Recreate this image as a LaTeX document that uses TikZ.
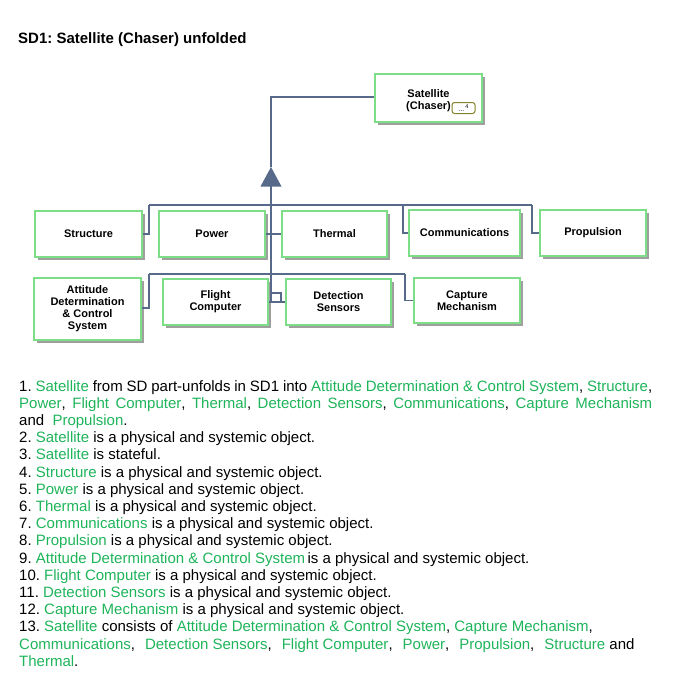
\documentclass[tikz,border=0pt]{standalone}
\usepackage{fontspec}
\setmainfont{Liberation Sans}
\usetikzlibrary{shadows}
\definecolor{objgreen}{RGB}{125,222,135}
\definecolor{txtgreen}{RGB}{30,180,90}
\definecolor{linkblue}{RGB}{88,106,138}
\definecolor{olivebox}{RGB}{130,130,40}
\newcommand{\ob}[1]{\textcolor{txtgreen}{#1}}
\newcommand{\gap}{\hspace{10pt}}
\frenchspacing

\begin{document}
\begin{tikzpicture}[x=1pt,y=1pt,
  every node/.style={font=\fontsize{11}{12}\selectfont\bfseries},
  obj/.style={draw=objgreen,line width=2pt,fill=white,align=center,inner sep=0pt,
    general shadow={fill=gray!75,shadow xshift=3pt,shadow yshift=-3pt}},
  link/.style={draw=linkblue,line width=1.4pt},
  txt/.style={anchor=base west,inner sep=0pt,font=\fontsize{15}{17.2}\selectfont}]
\useasboundingbox (0,0) rectangle (682,-672);

% title
\node[anchor=base west,inner sep=0pt,font=\fontsize{15}{16}\selectfont\bfseries] (title) at (18,-43) {SD1: Satellite (Chaser) unfolded};

% objects
\node[obj,minimum width=107,minimum height=48] (sat) at (428.5,-98) {};
\node[align=center,inner sep=0pt] (satname) at ([yshift=-3pt]sat.center) {Satellite\\(Chaser)};
\node[draw=olivebox,line width=1pt,rounded corners=2.5pt,fill=white,minimum width=23,minimum height=11,inner sep=0pt,
  font=\fontsize{7}{7}\selectfont] (satmore) at (463.5,-108) {\raisebox{-1.5pt}{...}\,\raisebox{2pt}{\fontsize{5.5}{6}\selectfont 4}};

\node[obj,minimum width=107,minimum height=46] (struct) at (88.5,-234) {Structure};
\node[obj,minimum width=106,minimum height=46] (power) at (212,-234) {Power};
\node[obj,minimum width=105,minimum height=46] (thermal) at (334.5,-234) {Thermal};
\node[obj,minimum width=111,minimum height=46] (comm) at (464.5,-233) {Communications};
\node[obj,minimum width=106,minimum height=46] (prop) at (593,-233) {Propulsion};
\node[obj,minimum width=107,minimum height=62] (adcs) at (87.5,-309) {Attitude\\Determination\\\& Control\\System};
\node[obj,minimum width=105,minimum height=46] (fc) at (215.5,-302) {Flight\\Computer};
\node[obj,minimum width=105,minimum height=46] (ds) at (338.5,-302) {Detection\\Sensors};
\node[obj,minimum width=106,minimum height=45] (cm) at (467,-300.5) {Capture\\Mechanism};

% aggregation
\coordinate (aggtop) at (271,-167);
\coordinate (aggbot) at (271,-186);
\coordinate (busa) at (149,-205);
\coordinate (busb) at (532,-205);
\coordinate (busc) at (149,-274);
\coordinate (busd) at (405,-274);
\draw[link] (sat.west |- 0,-97) -| (aggtop);
\fill[linkblue] (aggtop) -- (260.5,-186.5) -- (281.5,-186.5) -- cycle;
\draw[link] (aggbot) -- (271,-302);
\draw[link] (busa) -- (busb);
\draw[link] (busc) -- (busd);
\draw[link] (struct.east) -| (busa);
\draw[link] (power.east) -- (thermal.west);
\draw[link] (403,-205) |- (comm.west);
\draw[link] (busb) |- (prop.west);
\draw[link] (adcs.east |- 0,-308) -| (busc);
\draw[link] (busd) |- (cm.west);
\draw[link] (fc.east) -- (ds.west);
\draw[link] (271,-293) -- (281,-293) -- (281,-302);

% text
\node[txt] (t1) at (19,-391) {\makebox[633pt][s]{1. \ob{Satellite} from SD part-unfolds in SD1 into \ob{Attitude Determination \& Control System}, \ob{Structure},}};
\node[txt] (t2) at (19,-408.2) {\makebox[633pt][s]{\ob{Power}, \ob{Flight Computer}, \ob{Thermal}, \ob{Detection Sensors}, \ob{Communications}, \ob{Capture Mechanism}}};
\node[txt] (t3) at (19,-425.4) {and\ \ \ob{Propulsion}.};
\node[txt] (t4) at (19,-442.6) {2. \ob{Satellite} is a physical and systemic object.};
\node[txt] (t5) at (19,-459.8) {3. \ob{Satellite} is stateful.};
\node[txt] (t6) at (19,-477) {4. \ob{Structure} is a physical and systemic object.};
\node[txt] (t7) at (19,-494.2) {5. \ob{Power} is a physical and systemic object.};
\node[txt] (t8) at (19,-511.4) {6. \ob{Thermal} is a physical and systemic object.};
\node[txt] (t9) at (19,-528.6) {7. \ob{Communications} is a physical and systemic object.};
\node[txt] (t10) at (19,-545.8) {8. \ob{Propulsion} is a physical and systemic object.};
\node[txt] (t11) at (19,-563) {9. \ob{Attitude Determination \& Control System}\,is a physical and systemic object.};
\node[txt] (t12) at (19,-580.2) {10. \ob{Flight Computer} is a physical and systemic object.};
\node[txt] (t13) at (19,-597.4) {11. \ob{Detection Sensors} is a physical and systemic object.};
\node[txt] (t14) at (19,-614.6) {12. \ob{Capture Mechanism} is a physical and systemic object.};
\node[txt] (t15) at (19,-631.8) {13. \ob{Satellite} consists of \ob{Attitude Determination \& Control System}, \ob{Capture Mechanism},};
\node[txt] (t16) at (19,-649) {\ob{Communications},\gap\ob{Detection Sensors},\gap\ob{Flight Computer},\gap\ob{Power},\gap\ob{Propulsion},\gap\ob{Structure} and};
\node[txt] (t17) at (19,-666.2) {\ob{Thermal}.};
\end{tikzpicture}
\end{document}
